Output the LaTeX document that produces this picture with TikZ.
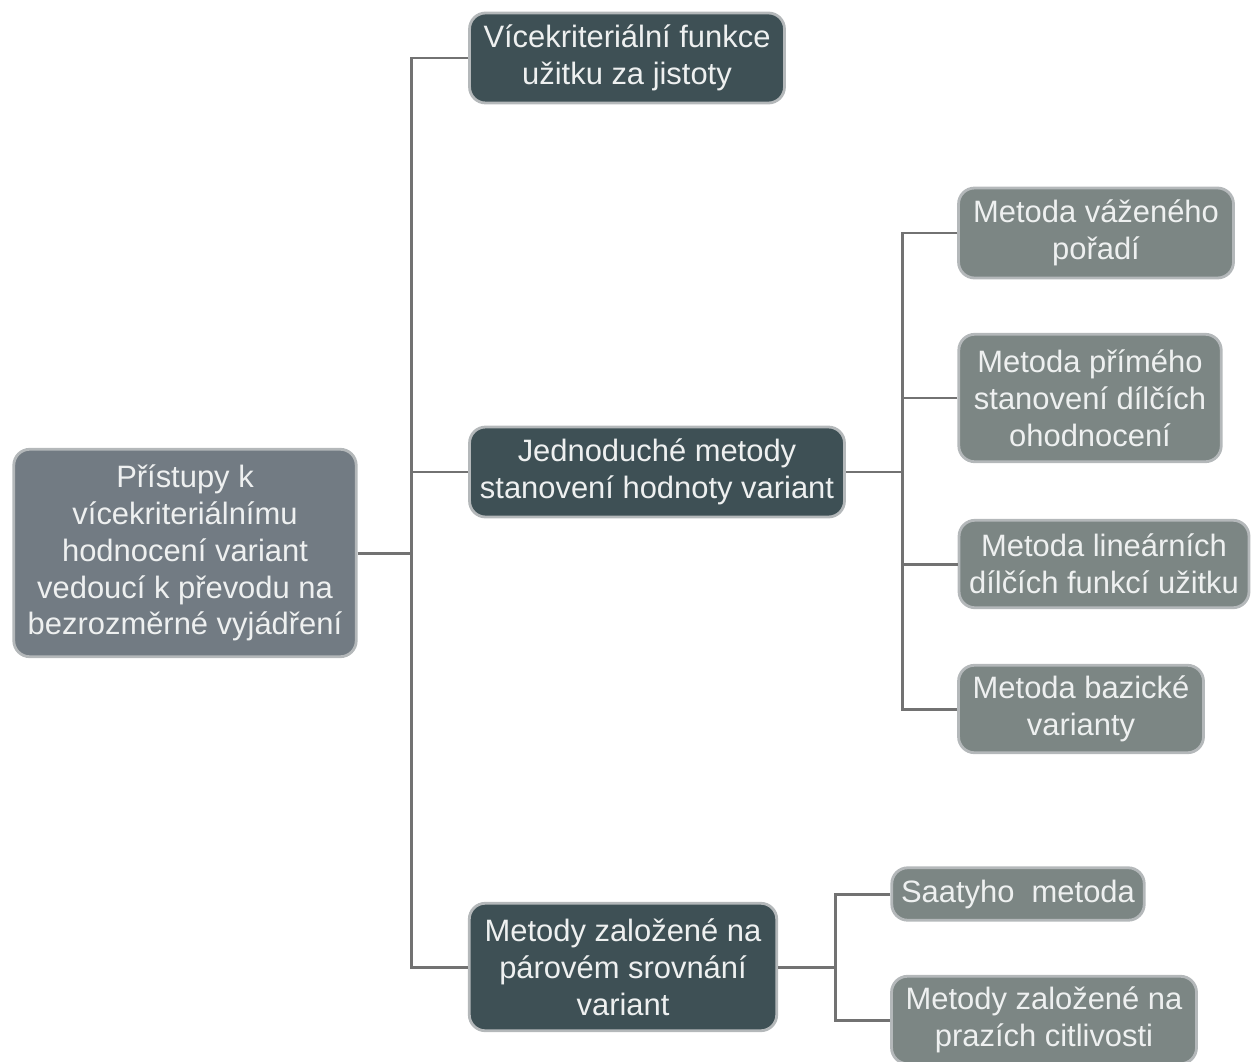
\documentclass[tikz,border=0pt]{standalone}
\usepackage{fontspec}
\setmainfont{Liberation Sans}
\definecolor{rootfill}{HTML}{727B83}
\definecolor{midfill}{HTML}{3E5055}
\definecolor{leaffill}{HTML}{7C8684}
\definecolor{boxline}{HTML}{B4B8BA}
\definecolor{connline}{HTML}{727272}
\definecolor{boxtext}{HTML}{EEF0F0}
\tikzset{
  box/.style={draw=boxline, line width=1.6pt, rounded corners=0.32cm,
    text=boxtext, align=center, inner sep=1pt,
    font=\fontsize{17.6}{21}\selectfont},
  rootbox/.style={box, fill=rootfill},
  midbox/.style={box, fill=midfill},
  leafbox/.style={box, fill=leaffill},
  conn/.style={draw=connline, line width=1.7pt}
}
\begin{document}
\begin{tikzpicture}[x=0.02cm, y=-0.02cm]
  \useasboundingbox (0,0) rectangle (1253,1061);
  % boxes
  \node[rootbox, minimum width=6.85cm, minimum height=4.15cm] (root) at (185,553)
    {Přístupy k\\vícekriteriálnímu\\hodnocení variant\\vedoucí k převodu na\\bezrozměrné vyjádření};
  \node[midbox, minimum width=6.3cm, minimum height=1.8cm] (jist) at (627,58)
    {Vícekriteriální funkce\\užitku za jistoty};
  \node[midbox, minimum width=7.5cm, minimum height=1.8cm] (jedn) at (657,472)
    {Jednoduché metody\\stanovení hodnoty variant};
  \node[midbox, minimum width=6.15cm, minimum height=2.55cm] (par) at (623,967)
    {Metody založené na\\párovém srovnání\\variant};
  \node[leafbox, minimum width=5.5cm, minimum height=1.8cm] (vaz) at (1096,233)
    {Metoda váženého\\pořadí};
  \node[leafbox, minimum width=5.25cm, minimum height=2.55cm] (prim) at (1090,398)
    {Metoda přímého\\stanovení dílčích\\ohodnocení};
  \node[leafbox, minimum width=5.8cm, minimum height=1.75cm] (lin) at (1104,564)
    {Metoda lineárních\\dílčích funkcí užitku};
  \node[leafbox, minimum width=4.9cm, minimum height=1.75cm] (baz) at (1081,709)
    {Metoda bazické\\varianty};
  \node[leafbox, minimum width=5.05cm, minimum height=1.05cm] (saat) at (1018,894)
    {Saatyho\ \ metoda};
  \node[leafbox, minimum width=6.1cm, minimum height=1.75cm] (prah) at (1044,1020)
    {Metody založené na\\prazích citlivosti};
  % connectors
  \coordinate (t1) at (411,553);
  \coordinate (t2) at (902,472);
  \coordinate (t3) at (835,967);
  \draw[conn] (root.east) -- (t1);
  \foreach \n in {jist,jedn,par}
    \draw[conn] (\n.west) -| (t1);
  \draw[conn] (jedn.east) -- (t2);
  \foreach \n in {vaz,prim,lin,baz}
    \draw[conn] (\n.west) -| (t2);
  \draw[conn] (par.east) -- (t3);
  \foreach \n in {saat,prah}
    \draw[conn] (\n.west) -| (t3);
\end{tikzpicture}
\end{document}
